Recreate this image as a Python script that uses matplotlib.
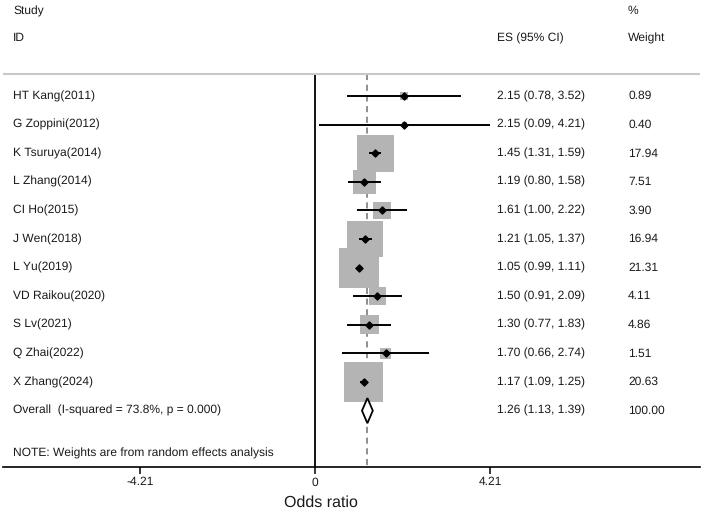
import numpy as np
import matplotlib.pyplot as plt
from matplotlib.patches import Polygon

plt.rcParams['font.family'] = ['Liberation Sans', 'DejaVu Sans']
plt.rcParams['text.hinting'] = 'no_hinting'
plt.rcParams['text.hinting_factor'] = 1

studies = ['HT Kang(2011)', 'G Zoppini(2012)', 'K Tsuruya(2014)', 'L Zhang(2014)',
           'CI Ho(2015)', 'J Wen(2018)', 'L Yu(2019)', 'VD Raikou(2020)',
           'S Lv(2021)', 'Q Zhai(2022)', 'X Zhang(2024)']
es = [2.15, 2.15, 1.45, 1.19, 1.61, 1.21, 1.05, 1.50, 1.30, 1.70, 1.17]
lo = [0.78, 0.09, 1.31, 0.80, 1.00, 1.05, 0.99, 0.91, 0.77, 0.66, 1.09]
hi = [3.52, 4.21, 1.59, 1.58, 2.22, 1.37, 1.11, 2.09, 1.83, 2.74, 1.25]
weights = [0.89, 0.40, 17.94, 7.51, 3.90, 16.94, 21.31, 4.11, 4.86, 1.51, 20.63]
overall = (1.26, 1.13, 1.39)
overall_label = 'Overall  (I-squared = 73.8%, p = 0.000)'
note = 'NOTE: Weights are from random effects analysis'
xticks = [-4.21, 0, 4.21]

fig = plt.figure(figsize=(7.09, 5.12), dpi=100)
ax = fig.add_axes([3 / 709, 45 / 512, 697 / 709, 467 / 512])
ax.set_xlim(-7.505, 9.26)
ax.set_ylim(12.97, -3.36)

n = len(studies)
y = np.arange(n)
txt = '#1a1a1a'

# weight boxes (side ~ sqrt(weight))
ax.scatter(es, y, s=np.array(weights) * 39, marker='s', color='#b4b4b4', zorder=2, linewidths=0)
ax.hlines(y, lo, hi, color='black', lw=1.4, zorder=3)
ax.scatter(es, y, s=13, marker='D', color='black', zorder=4)

# overall diamond
yo = n
est, olo, ohi = overall
diamond = Polygon([[olo, yo], [est, yo - 0.44], [ohi, yo], [est, yo + 0.44]],
                  closed=True, facecolor='white', edgecolor='black', lw=1.3, zorder=5)
ax.add_patch(diamond)

# reference lines
ax.vlines(0, -0.77, 12.97, color='black', lw=1.3, zorder=1)
ax.vlines(est, -0.77, 12.97, color='#707070', lw=1.1, linestyles=(0, (4, 3)), zorder=1)
ax.axhline(-0.77, color='#c8c8c8', lw=1.5)

# text columns
fs = 8.7
x_name, x_es, x_w = -7.26, 4.38, 7.53
ax.text(x_name, -2.97, 'Study', fontsize=fs, va='center', color=txt)
ax.text(x_name, -2.03, 'ID', fontsize=fs, va='center', color=txt)
ax.text(x_es, -2.03, 'ES (95% CI)', fontsize=fs, va='center', color=txt)
ax.text(x_w, -2.97, '%', fontsize=fs, va='center', color=txt)
ax.text(x_w, -2.03, 'Weight', fontsize=fs, va='center', color=txt)
for i in range(n):
    ax.text(x_name, i, studies[i], fontsize=fs, va='center', color=txt)
    ax.text(x_es, i, f'{es[i]:.2f} ({lo[i]:.2f}, {hi[i]:.2f})', fontsize=fs, va='center', color=txt)
    ax.text(x_w, i, f'{weights[i]:.2f}', fontsize=fs, va='center', color=txt)
ax.text(x_name, yo, overall_label, fontsize=fs, va='center', color=txt)
ax.text(x_es, yo, f'{est:.2f} ({olo:.2f}, {ohi:.2f})', fontsize=fs, va='center', color=txt)
ax.text(x_w, yo, f'{sum(weights):.2f}', fontsize=fs, va='center', color=txt)
ax.text(x_name, 12.48, note, fontsize=fs, va='center', color=txt)

for s in ['top', 'left', 'right']:
    ax.spines[s].set_visible(False)
ax.spines['bottom'].set_linewidth(1.2)
ax.set_yticks([])
ax.set_xticks(xticks)
ax.set_xticklabels(['-4.21', '0', '4.21'], fontsize=fs, color=txt)
ax.tick_params(axis='x', length=5, width=1.1, pad=2)
fig.text(321 / 709, 9 / 512, 'Odds ratio', fontsize=11.5, ha='center', va='center', color=txt)

fig.savefig('out.png', dpi=100)
